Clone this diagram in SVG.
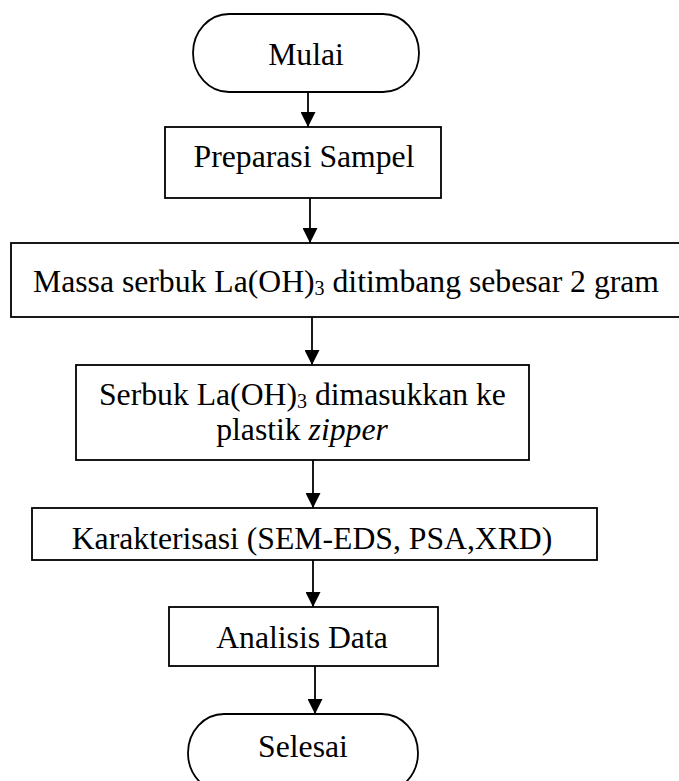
<svg xmlns="http://www.w3.org/2000/svg" width="679" height="781" viewBox="0 0 679 781">
<style>
.box{fill:#fff;stroke:#000;stroke-width:1.8}
.t{font-family:"Liberation Serif","Times New Roman",serif;font-size:31.7px;fill:#000}
.sub{font-size:20px}
.conn line{stroke:#000;stroke-width:1.8}
</style>
<defs>
<marker id="ah" markerWidth="15" markerHeight="15" refX="15" refY="7.5" orient="auto" markerUnits="userSpaceOnUse">
<path d="M0,0 L15,7.5 L0,15 Z" fill="#000"/>
</marker>
</defs>
<rect width="679" height="781" fill="#fff"/>
<g id="conn" class="conn">
<line x1="308" y1="92" x2="308" y2="127" marker-end="url(#ah)"/>
<line x1="310" y1="198" x2="310" y2="243" marker-end="url(#ah)"/>
<line x1="312" y1="317" x2="312" y2="365" marker-end="url(#ah)"/>
<line x1="313" y1="460" x2="313" y2="508" marker-end="url(#ah)"/>
<line x1="313" y1="560" x2="313" y2="607" marker-end="url(#ah)"/>
<line x1="315" y1="666" x2="315" y2="714" marker-end="url(#ah)"/>
</g>
<g id="mulai">
<rect class="box" x="193" y="14" width="226" height="78" rx="36" ry="39"/>
<text class="t" x="306" y="65" text-anchor="middle">Mulai</text>
</g>
<g id="preparasi">
<rect class="box" x="165" y="127" width="276" height="71"/>
<text class="t" x="304" y="167" text-anchor="middle">Preparasi Sampel</text>
</g>
<g id="massa">
<rect class="box" x="11" y="243" width="672" height="74"/>
<text class="t" x="33" y="292">Massa serbuk La(OH)<tspan class="sub" dy="3">3</tspan><tspan dy="-3"> ditimbang sebesar 2 gram</tspan></text>
</g>
<g id="serbuk">
<rect class="box" x="76" y="365" width="453" height="95"/>
<text class="t" x="99" y="405">Serbuk La(OH)<tspan class="sub" dy="3">3</tspan><tspan dy="-3"> dimasukkan ke</tspan></text>
<text class="t" x="302" y="440" text-anchor="middle">plastik <tspan font-style="italic">zipper</tspan></text>
</g>
<g id="karakterisasi">
<rect class="box" x="32" y="508" width="565" height="52"/>
<text class="t" x="312" y="549" text-anchor="middle">Karakterisasi (SEM-EDS, PSA,XRD)</text>
</g>
<g id="analisis">
<rect class="box" x="169" y="607" width="269" height="59"/>
<text class="t" x="302" y="648" text-anchor="middle">Analisis Data</text>
</g>
<g id="selesai">
<rect class="box" x="188" y="714" width="230" height="78" rx="36" ry="39"/>
<text class="t" x="303" y="757" text-anchor="middle">Selesai</text>
</g>
</svg>
